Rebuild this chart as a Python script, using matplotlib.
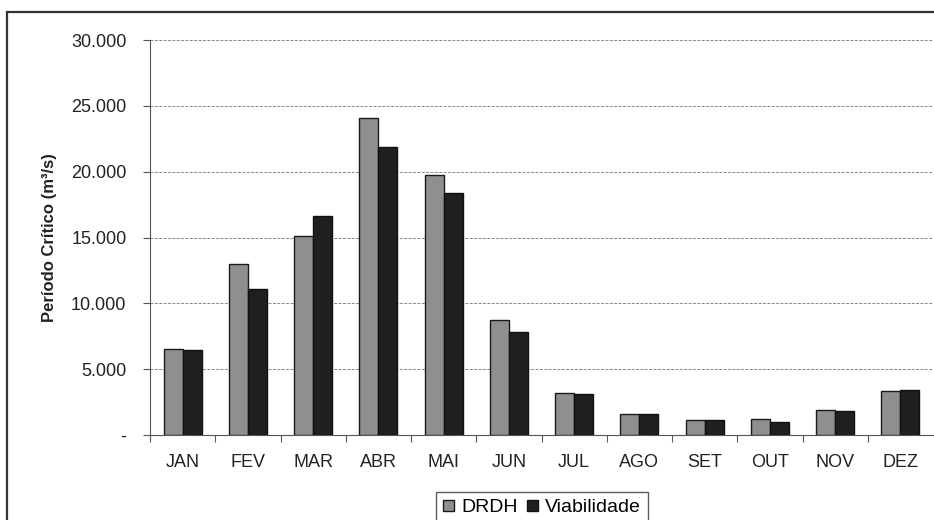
import numpy as np
from matplotlib import pyplot as plt
from matplotlib.patches import Rectangle
import matplotlib

matplotlib.rc('font', family=['Liberation Sans', 'DejaVu Sans'])

meses = ['JAN', 'FEV', 'MAR', 'ABR', 'MAI', 'JUN', 'JUL', 'AGO', 'SET', 'OUT', 'NOV', 'DEZ']
drdh = [6540, 12950, 15150, 24100, 19750, 8740, 3200, 1630, 1120, 1200, 1930, 3320]
viabilidade = [6440, 11060, 16600, 21900, 18360, 7830, 3120, 1630, 1120, 1020, 1800, 3420]
yticks = [0, 5000, 10000, 15000, 20000, 25000, 30000]
ytick_labels = ['-', '5.000', '10.000', '15.000', '20.000', '25.000', '30.000']

W, H = 934, 520
fig = plt.figure(figsize=(W / 100, H / 100), dpi=100)

# outer frame (cropped on right and bottom like the scan)
fig.patches.append(Rectangle((7 / W, -0.1), 1.2, 1 - 12 / H + 0.1, transform=fig.transFigure,
                             fill=False, edgecolor='#333333', linewidth=1.6))

ax = fig.add_axes([150 / W, (H - 435) / H, (933 - 150) / W, (435 - 40) / H])

x = np.arange(len(meses))
w = 0.29
ax.bar(x - w / 2, drdh, w, color='#8f8f8f', edgecolor='#1a1a1a', linewidth=1.0,
       label='DRDH', zorder=3)
ax.bar(x + w / 2, viabilidade, w, color='#1f1f1f', edgecolor='#111111', linewidth=1.0,
       label='Viabilidade', zorder=3)

ax.set_xlim(-0.5, len(meses) - 0.5)
ax.set_ylim(0, 30000)
ax.set_yticks(yticks)
ax.set_yticklabels(ytick_labels)
ax.set_xticks(x)
ax.set_xticklabels(meses)
ax.tick_params(axis='x', length=0, pad=14, labelsize=13, labelcolor='#222222')
ax.tick_params(axis='y', length=5, width=0.8, color='#555555', pad=12, labelsize=13,
               labelcolor='#222222')

# category separator ticks below the axis
ax.set_xticks(np.arange(len(meses)) - 0.5, minor=True)
ax.tick_params(axis='x', which='minor', length=5, width=0.8, color='#555555')

ax.yaxis.grid(True, linestyle=(0, (3, 1.5)), color='#888888', linewidth=0.7, zorder=0)
for s in ['top', 'right']:
    ax.spines[s].set_visible(False)
ax.spines['left'].set_color('#555555')
ax.spines['bottom'].set_color('#555555')

ax.set_ylabel('Período Crítico (m³/s)', fontsize=12, fontweight='bold', labelpad=10,
              color='#222222')

fig.legend(loc='center', bbox_to_anchor=(542 / W, (H - 508) / H), ncol=2, fontsize=14,
           frameon=True, fancybox=False, edgecolor='#333333', handlelength=0.55,
           handleheight=0.55, handletextpad=0.35, columnspacing=0.5, borderpad=0.4,
           borderaxespad=0)

plt.savefig('out.png', dpi=100)
plt.close()
